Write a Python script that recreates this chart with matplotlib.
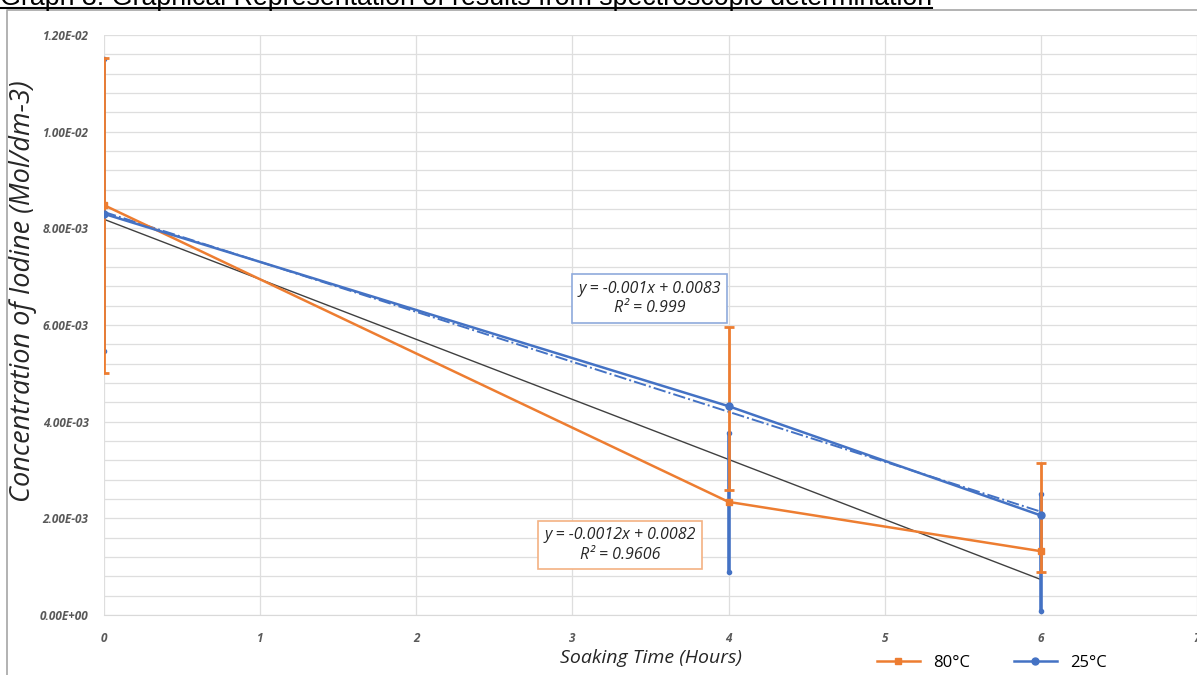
import matplotlib
matplotlib.use("Agg")
import matplotlib.pyplot as plt
from matplotlib.lines import Line2D
from matplotlib.ticker import FuncFormatter, MultipleLocator
import numpy as np

# Soaking time (hours)
hours = [0, 4, 6]

# Iodine concentration (mol/dm-3)
conc_80 = [8.48e-3, 2.34e-3, 1.32e-3]
conc_25 = [8.30e-3, 4.32e-3, 2.06e-3]

# Error bar ends as drawn in the original (low / high)
err_80_low = [5.01e-3, 2.59e-3, 0.90e-3]
err_80_high = [11.52e-3, 5.96e-3, 3.15e-3]
err_25_low = [5.46e-3, 0.90e-3, 0.09e-3]
err_25_high = [11.50e-3, 3.77e-3, 2.50e-3]

orange = '#ED7D31'
blue = '#4472C4'

fig = plt.figure(figsize=(11.97, 6.75), dpi=100)
ax = fig.add_axes([104 / 1197, 60 / 675, 1093 / 1197, 580 / 675])

# Fitted trendlines (least squares, like Excel)
x_fit = np.array([0, 6])
m80, c80 = np.polyfit(hours, conc_80, 1)
m25, c25 = np.polyfit(hours, conc_25, 1)
ax.plot(x_fit, m80 * x_fit + c80, color='#404040', lw=1.0, zorder=3)
ax.plot(x_fit, m25 * x_fit + c25, color=blue, lw=1.4, ls='-.', zorder=3)

# Error bars
ax.vlines(hours, err_25_low, err_25_high, color=blue, lw=2.6, zorder=4)
ax.plot(hours, err_25_low, ls='none', marker='o', ms=3, color=blue, zorder=4)
ax.plot(hours, err_25_high, ls='none', marker='o', ms=3, color=blue, zorder=4)
ax.vlines(hours, err_80_low, err_80_high, color=orange, lw=2.0, zorder=5)
ax.plot(hours, err_80_low, ls='none', marker='_', ms=7, mew=2, color=orange, zorder=5)
ax.plot(hours, err_80_high, ls='none', marker='_', ms=7, mew=2, color=orange, zorder=5)

# Data series
ax.plot(hours, conc_80, color=orange, lw=1.8, marker='s', ms=5, label='80°C', zorder=6)
ax.plot(hours, conc_25, color=blue, lw=1.8, marker='o', ms=5, label='25°C', zorder=6)

# Axes
ax.set_xlim(0, 7)
ax.set_ylim(0, 0.012)
ax.xaxis.set_major_locator(MultipleLocator(1))
ax.yaxis.set_major_locator(MultipleLocator(0.002))
ax.yaxis.set_minor_locator(MultipleLocator(0.0004))
ax.yaxis.set_major_formatter(FuncFormatter(lambda v, p: f"{v:.2E}"))
ax.grid(True, which='both', color='#DEDEDE', lw=0.9)
ax.set_axisbelow(True)
for s in ['top', 'right', 'left']:
    ax.spines[s].set_visible(False)
ax.spines['bottom'].set_color('#D9D9D9')
ax.tick_params(which='both', length=0)
ax.tick_params(axis='y', pad=11)
ax.tick_params(axis='x', pad=12)
for lab in ax.get_xticklabels() + ax.get_yticklabels():
    lab.set_fontfamily('Open Sans')
    lab.set_fontstyle('italic')
    lab.set_fontweight('bold')
    lab.set_fontsize(8.5)
    lab.set_color('#595959')

ax.set_xlabel('Soaking Time (Hours)', fontfamily='Open Sans', fontstyle='italic',
              fontsize=14, color='#262626', labelpad=3)
ax.set_ylabel('Concentration of Iodine (Mol/dm-3)', fontfamily='Open Sans', fontstyle='italic',
              fontsize=19.5, color='#262626')
ax.yaxis.set_label_coords(-0.061, 0.559)

# Trendline equation boxes
ax.text(3.95, 0.00618, 'y = -0.001x + 0.0083\nR² = 0.999', ha='right', va='bottom',
        fontfamily='Open Sans', fontstyle='italic', fontsize=11.5, linespacing=1.3, color='#262626',
        multialignment='center',
        bbox=dict(boxstyle='square,pad=0.4', fc='white', ec='#8FAADC', lw=1.2), zorder=7)
ax.text(3.79, 0.00108, 'y = -0.0012x + 0.0082\nR² = 0.9606', ha='right', va='bottom',
        fontfamily='Open Sans', fontstyle='italic', fontsize=11.5, linespacing=1.3, color='#262626',
        multialignment='center',
        bbox=dict(boxstyle='square,pad=0.4', fc='white', ec='#F4B183', lw=1.2), zorder=7)

fig.legend(loc='center', bbox_to_anchor=(992 / 1197, 12 / 675), ncol=2, frameon=False,
           prop={'family': 'Open Sans', 'size': 12}, handlelength=2.6, columnspacing=2.6)

# Title, clipped at the top like the screenshot
title = fig.text(0.0, 1 - 5 / 675, 'Graph 3: Graphical Representation of results from spectroscopic determination',
                 ha='left', va='baseline', fontfamily='Liberation Sans', fontsize=19.3, color='black')
fig.canvas.draw()
bb = title.get_window_extent()
fig.add_artist(Line2D([bb.x0 / 1197, bb.x1 / 1197], [1 - 8 / 675, 1 - 8 / 675],
                      transform=fig.transFigure, color='black', lw=1.5))

# Outer frame of the embedded chart
fig.add_artist(Line2D([7 / 1197, 7 / 1197, 1.0], [0, 1 - 10 / 675, 1 - 10 / 675],
                      transform=fig.transFigure, color='#A6A6A6', lw=1.2))

plt.savefig('out.png', dpi=100)
